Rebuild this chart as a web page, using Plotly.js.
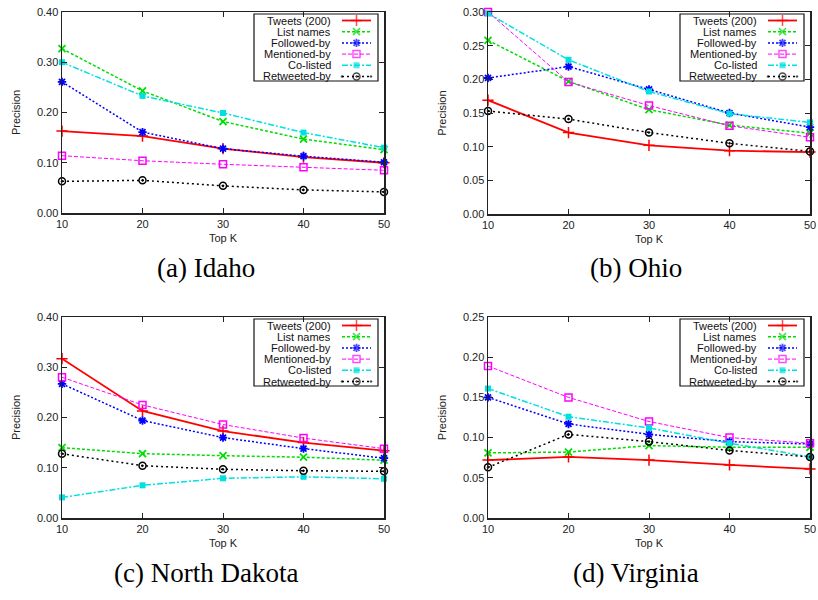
<!DOCTYPE html>
<html><head><meta charset="utf-8">
<script src="https://cdn.plot.ly/plotly-3.0.1.min.js"></script>
<style>body{margin:0;background:#fff}</style>
</head><body><div id="chart" style="width:818px;height:600px"></div>
<script>
// ---------------- data ----------------
const topK = [10, 20, 30, 40, 50];
const seriesNames = ['Tweets (200)', 'List names', 'Followed-by', 'Mentioned-by', 'Co-listed', 'Retweeted-by'];
const panelCaptions = ['(a) Idaho', '(b) Ohio', '(c) North Dakota', '(d) Virginia'];

const idahoTweets      = [0.163, 0.153, 0.128, 0.111, 0.100];
const idahoListNames   = [0.327, 0.243, 0.182, 0.147, 0.126];
const idahoFollowedBy  = [0.261, 0.161, 0.128, 0.113, 0.101];
const idahoMentionedBy = [0.114, 0.104, 0.097, 0.091, 0.085];
const idahoCoListed    = [0.300, 0.233, 0.199, 0.160, 0.130];
const idahoRetweetedBy = [0.063, 0.065, 0.054, 0.046, 0.042];

const ohioTweets      = [0.169, 0.121, 0.102, 0.094, 0.092];
const ohioListNames   = [0.258, 0.197, 0.155, 0.132, 0.120];
const ohioFollowedBy  = [0.202, 0.219, 0.185, 0.150, 0.129];
const ohioMentionedBy = [0.300, 0.196, 0.161, 0.131, 0.114];
const ohioCoListed    = [0.298, 0.229, 0.182, 0.149, 0.136];
const ohioRetweetedBy = [0.153, 0.141, 0.121, 0.105, 0.093];

const ndTweets      = [0.317, 0.213, 0.173, 0.150, 0.134];
const ndListNames   = [0.140, 0.128, 0.124, 0.121, 0.115];
const ndFollowedBy  = [0.267, 0.194, 0.160, 0.138, 0.119];
const ndMentionedBy = [0.280, 0.225, 0.186, 0.159, 0.138];
const ndCoListed    = [0.041, 0.065, 0.079, 0.082, 0.078];
const ndRetweetedBy = [0.128, 0.104, 0.097, 0.094, 0.093];

const vaTweets      = [0.072, 0.076, 0.072, 0.066, 0.061];
const vaListNames   = [0.081, 0.082, 0.090, 0.088, 0.088];
const vaFollowedBy  = [0.150, 0.117, 0.104, 0.095, 0.092];
const vaMentionedBy = [0.189, 0.150, 0.120, 0.100, 0.093];
const vaCoListed    = [0.161, 0.126, 0.112, 0.093, 0.076];
const vaRetweetedBy = [0.063, 0.104, 0.095, 0.084, 0.076];

const yTicksA = [0, 0.10, 0.20, 0.30, 0.40];
const yTicksB = [0, 0.05, 0.10, 0.15, 0.20, 0.25, 0.30];
const yTicksC = [0, 0.10, 0.20, 0.30, 0.40];
const yTicksD = [0, 0.05, 0.10, 0.15, 0.20, 0.25];

const panelSeries = [
  [idahoTweets, idahoListNames, idahoFollowedBy, idahoMentionedBy, idahoCoListed, idahoRetweetedBy],
  [ohioTweets, ohioListNames, ohioFollowedBy, ohioMentionedBy, ohioCoListed, ohioRetweetedBy],
  [ndTweets, ndListNames, ndFollowedBy, ndMentionedBy, ndCoListed, ndRetweetedBy],
  [vaTweets, vaListNames, vaFollowedBy, vaMentionedBy, vaCoListed, vaRetweetedBy]
];
const panelYTicks = [yTicksA, yTicksB, yTicksC, yTicksD];

// ---------------- styles / geometry ----------------
const W = 818, H = 600;
const geom = [
  {l: 62,  r: 384, t: 12,  b: 213, capX: 206, capY: 268},
  {l: 488, r: 810, t: 12,  b: 214, capX: 636, capY: 268},
  {l: 62,  r: 384, t: 317, b: 518, capX: 206, capY: 573},
  {l: 488, r: 810, t: 317, b: 518, capX: 636, capY: 573}
];
const styles = [
  {color: '#ff0000', dash: 'solid',           width: 1.8, symbol: 'cross-thin-open', size: 8, mlw: 1.5},
  {color: '#00dd00', dash: '3px,2px',         width: 1.5, symbol: 'x-thin-open',     size: 7, mlw: 1.8},
  {color: '#0000ff', dash: '2px,2px',         width: 1.5, symbol: 'asterisk-open',   size: 7, mlw: 1.8},
  {color: '#ff00ff', dash: '4px,2px',         width: 1.0, symbol: 'square-open',     size: 7, mlw: 1.5},
  {color: '#00e0e0', dash: '6px,2px,2px,2px', width: 1.5, symbol: 'square',          size: 6, mlw: 0},
  {color: '#000000', dash: '2px,3px',         width: 1.5, symbol: 'circle-open-dot', size: 7, mlw: 1.5}
];
const sans = 'Liberation Sans, Arial, Helvetica, sans-serif';
const serif = 'Liberation Serif, Times New Roman, serif';

const traces = [];
const layout = {
  width: W, height: H,
  margin: {l: 0, r: 0, t: 0, b: 0},
  paper_bgcolor: '#ffffff',
  plot_bgcolor: 'rgba(0,0,0,0)',
  showlegend: false,
  annotations: [],
  shapes: []
};

const px = x => x / W;
const py = y => 1 - y / H;

geom.forEach((g, p) => {
  const n = p + 1;
  const xa = n === 1 ? 'x' : 'x' + n;
  const ya = n === 1 ? 'y' : 'y' + n;
  const xk = n === 1 ? 'xaxis' : 'xaxis' + n;
  const yk = n === 1 ? 'yaxis' : 'yaxis' + n;
  const yt = panelYTicks[p];
  const common = {
    showline: true, linecolor: '#222', linewidth: 1.5, mirror: 'ticks',
    ticks: 'inside', ticklen: 5, tickwidth: 1, tickcolor: '#222',
    showgrid: false, zeroline: false, fixedrange: true,
    tickfont: {family: sans, size: 11, color: '#222'}
  };
  layout[xk] = Object.assign({}, common, {
    domain: [px(g.l), px(g.r)], anchor: ya,
    range: [topK[0], topK[topK.length - 1]],
    tickvals: topK, ticktext: topK.map(String),
    title: {text: 'Top K', standoff: 5, font: {family: sans, size: 11, color: '#222'}}
  });
  layout[yk] = Object.assign({}, common, {
    domain: [py(g.b), py(g.t)], anchor: xa,
    range: [0, yt[yt.length - 1]],
    tickvals: yt, tickformat: '.2f',
    title: {text: 'Precision', standoff: 14, font: {family: sans, size: 11, color: '#222'}}
  });

  panelSeries[p].forEach((vals, i) => {
    const s = styles[i];
    traces.push({
      type: 'scatter', mode: 'lines+markers', x: topK, y: vals,
      xaxis: xa, yaxis: ya, name: seriesNames[i], cliponaxis: false,
      line: {color: s.color, width: s.width, dash: s.dash},
      marker: {symbol: s.symbol, size: s.size, color: s.color,
               line: {color: s.color, width: s.mlw}}
    });
  });

  // custom gnuplot-style key
  const boxR = g.r - 6, boxL = boxR - 124, boxT = g.t + 2, boxB = boxT + 67;
  layout.shapes.push({type: 'rect', xref: 'paper', yref: 'paper',
    x0: px(boxL), x1: px(boxR), y0: py(boxB), y1: py(boxT),
    line: {color: '#111', width: 1.2}, fillcolor: 'rgba(0,0,0,0)', layer: 'above'});
  seriesNames.forEach((name, i) => {
    const s = styles[i];
    const rowY = g.t + 8.5 + i * 11.2;
    layout.annotations.push({xref: 'paper', yref: 'paper', x: px(boxR - 45), y: py(rowY),
      xanchor: 'right', yanchor: 'middle', showarrow: false, text: name,
      font: {family: sans, size: 11, color: '#111'}});
    traces.push({
      type: 'scatter', mode: 'lines+markers', xaxis: 'x5', yaxis: 'y5', hoverinfo: 'skip',
      x: [boxR - 36, boxR - 21.5, boxR - 7], y: [rowY, rowY, rowY], cliponaxis: false,
      line: {color: s.color, width: s.width, dash: s.dash},
      marker: {symbol: s.symbol, size: [0, s.size, 0], color: s.color,
               line: {color: s.color, width: s.mlw}}
    });
  });

  layout.annotations.push({xref: 'paper', yref: 'paper', x: px(g.capX), y: py(g.capY),
    xanchor: 'center', yanchor: 'middle', showarrow: false, text: panelCaptions[p],
    font: {family: serif, size: 27, color: '#000'}});
});

layout.xaxis5 = {domain: [0, 1], range: [0, W], visible: false, fixedrange: true, anchor: 'y5'};
layout.yaxis5 = {domain: [0, 1], range: [H, 0], visible: false, fixedrange: true, anchor: 'x5'};

Plotly.newPlot('chart', traces, layout, {staticPlot: true, displayModeBar: false});
</script>
</body></html>
